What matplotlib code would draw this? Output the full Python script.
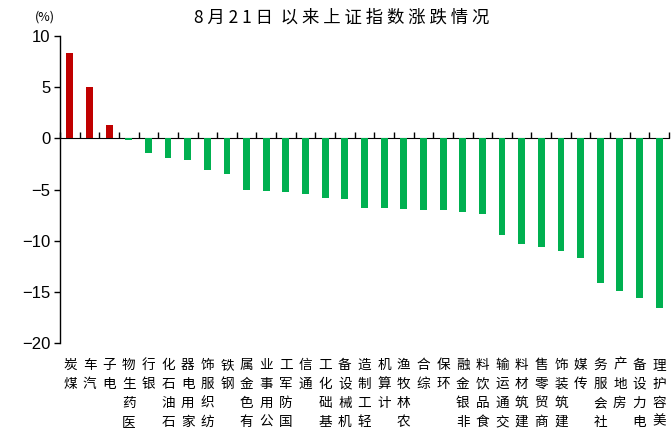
import matplotlib
matplotlib.use("Agg")
import matplotlib.pyplot as plt
import matplotlib.transforms as mtransforms
import numpy as np

categories = ["煤炭", "汽车", "电子", "医药生物", "银行", "石油石化", "家用电器", "纺织服饰",
              "钢铁", "有色金属", "公用事业", "国防军工", "通信", "基础化工", "机械设备", "轻工制造",
              "计算机", "农林牧渔", "综合", "环保", "非银金融", "食品饮料", "交通运输", "建筑材料",
              "商贸零售", "建筑装饰", "传媒", "社会服务", "房地产", "电力设备", "美容护理"]
values = [8.3, 5.0, 1.3, -0.2, -1.4, -1.9, -2.1, -3.05, -3.45, -5.0, -5.1, -5.2, -5.4, -5.8, -5.95, -6.8,
          -6.8, -6.87, -6.97, -6.97, -7.16, -7.35, -9.4, -10.3, -10.6, -10.97, -11.65, -14.15, -14.9, -15.65, -16.6]
yticks = [10, 5, 0, -5, -10, -15, -20]
title = "8 月 2 1 日  以 来 上 证 指 数 涨 跌 情 况"
unit = "(%)"

CJK = ["Noto Sans CJK SC", "DejaVu Sans"]
NUM = ["Liberation Sans", "DejaVu Sans"]

fig = plt.figure(figsize=(6.72, 4.30), dpi=100)
ax = fig.add_axes([60/672, 1-343/430, 609/672, (343-36)/430])

x = np.arange(len(categories))
colors = ["#C00000" if v >= 0 else "#00B050" for v in values]
ax.bar(x, values, width=0.35, color=colors, zorder=2)

ax.set_xlim(-0.5, len(categories) - 0.5)
ax.set_ylim(-20, 10)
ax.set_yticks(yticks)
ax.set_yticklabels([f"{t}".replace("-", "\u2212") for t in yticks], fontfamily=NUM, fontsize=12)
ax.tick_params(axis="y", direction="out", length=4, width=1, pad=3)

for s in ["top", "right", "bottom"]:
    ax.spines[s].set_visible(False)
ax.spines["left"].set_linewidth(1)

ax.set_xticks([])
# zero-line axis with boundary ticks
sec = ax.secondary_xaxis(2/3)
sec.set_xticks(np.arange(len(categories) + 1) - 0.5)
sec.set_xticklabels([])
sec.tick_params(axis="x", direction="out", length=4, width=1)
sec.spines["bottom"].set_linewidth(1)

# vertical category labels (read bottom to top, upright characters)
label_tr = mtransforms.offset_copy(ax.transData, fig=fig, y=-15, units="dots")
for i, lab in enumerate(categories):
    txt = "\n".join(reversed(lab))
    ax.text(i, -20, txt, transform=label_tr, ha="center", va="top",
            fontfamily=CJK, fontsize=9.8, linespacing=1.45, clip_on=False)

fig.text(342/672, 1-18/430, title, ha="center", va="center", fontfamily=CJK, fontsize=12.5)
fig.text(45/672, 1-17/430, unit, ha="center", va="center", fontfamily=CJK, fontsize=9)

fig.savefig("out.png", dpi=100)
